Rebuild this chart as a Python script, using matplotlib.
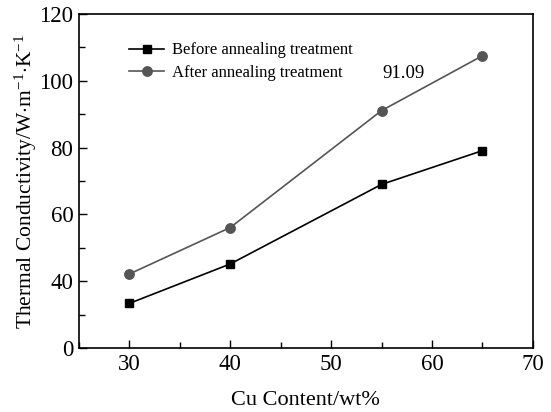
import matplotlib
matplotlib.use("Agg")
import matplotlib.pyplot as plt
from matplotlib.ticker import MultipleLocator

plt.rcParams['font.family'] = ['Liberation Serif', 'DejaVu Serif']
plt.rcParams['mathtext.fontset'] = 'custom'
plt.rcParams['mathtext.rm'] = 'Liberation Serif'
plt.rcParams['mathtext.it'] = 'Liberation Serif:italic'

cu_content = [30, 40, 55, 65]
before = [33.4, 45.2, 69.0, 79.1]
after = [42.2, 56.1, 91.09, 107.5]
x_ticks = [30, 40, 50, 60, 70]
y_ticks = [20, 40, 60, 80, 100, 120]
y_tick_labels = ['0', '40', '60', '80', '100', '120']

fig = plt.figure(figsize=(5.51, 4.12), dpi=100)
ax = fig.add_axes([0.1434, 0.155, 0.967 - 0.1434, 0.966 - 0.155])

ax.plot(cu_content, before, color='black', lw=1.2, marker='s', ms=5.5,
        label='Before annealing treatment')
ax.plot(cu_content, after, color='#555555', lw=1.2, marker='o', ms=6.8,
        label='After annealing treatment')

ax.annotate('91.09', xy=(57.2, 102.3), ha='center', va='center', fontsize=13.5)

ax.set_xlim(25, 70)
ax.set_ylim(20, 120)
ax.set_xticks(x_ticks)
ax.set_yticks(y_ticks)
ax.set_yticklabels(y_tick_labels)
ax.xaxis.set_minor_locator(MultipleLocator(5))
ax.yaxis.set_minor_locator(MultipleLocator(10))
ax.tick_params(which='both', direction='in', top=False, right=False, labelsize=16.5, width=1)
ax.tick_params(which='major', length=6, pad=4)
ax.tick_params(which='minor', length=4)
for s in ax.spines.values():
    s.set_linewidth(1.2)

ax.set_xlabel('Cu Content/wt%', fontsize=16, labelpad=12)
ax.set_ylabel(r'Thermal Conductivity/W$\cdot$m$^{-1}$$\cdot$K$^{-1}$', fontsize=15.5, labelpad=0)

ax.legend(loc='upper left', bbox_to_anchor=(0.085, 0.95), frameon=False, fontsize=12,
          handlelength=2.1, handletextpad=0.45, labelspacing=0.4, borderpad=0.2)

fig.savefig('out.png', dpi=100)
